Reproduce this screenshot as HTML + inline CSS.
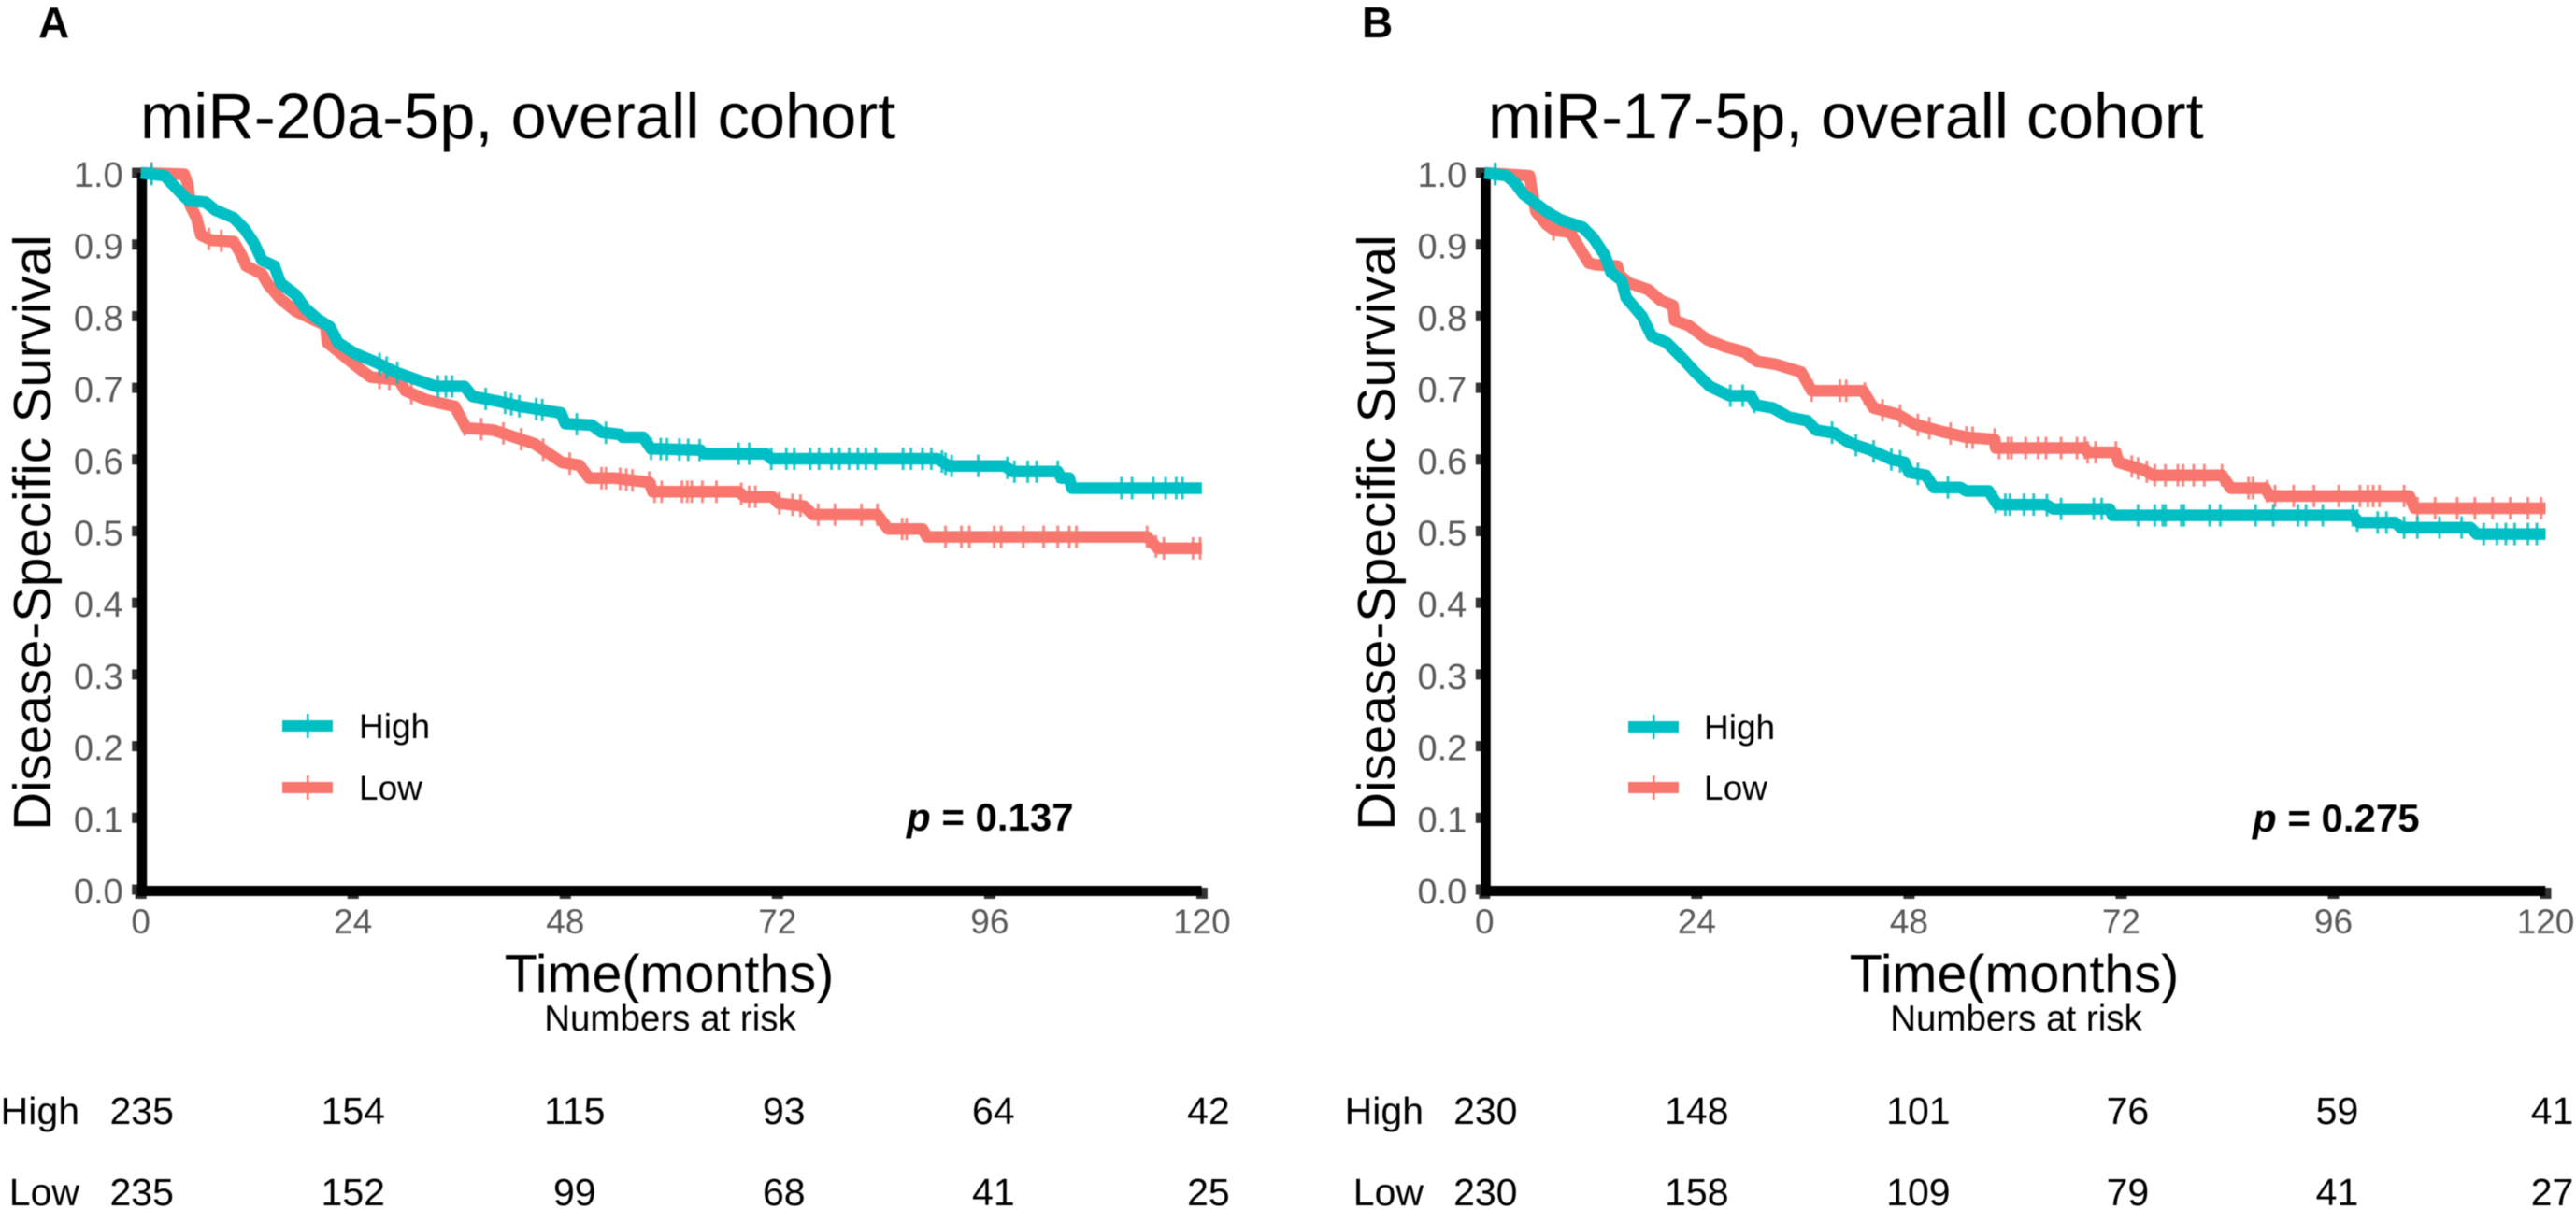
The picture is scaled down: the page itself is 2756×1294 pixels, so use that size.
<!DOCTYPE html>
<html lang="en">
<head>
<meta charset="utf-8">
<title>Disease-specific survival by miRNA expression</title>
<style>
html,body{margin:0;padding:0;background:#fff;width:2756px;height:1294px;overflow:hidden}
svg{display:block;font-family:"Liberation Sans",sans-serif;filter:blur(0.6px)}
</style>
</head>
<body>
<svg id="figure" xmlns="http://www.w3.org/2000/svg" width="2756" height="1294" viewBox="0 0 2756 1294">
  <rect width="2756" height="1294" fill="#fff"/>

  <g id="panel-a">
    <text x="41" y="40" font-size="46" font-weight="bold">A</text>
    <text x="150" y="148" font-size="68.6">miR-20a-5p, overall cohort</text>
    <text transform="translate(54,570) rotate(-90)" text-anchor="middle" font-size="56.5">Disease-Specific Survival</text>
    <text x="716" y="1062" text-anchor="middle" font-size="57.5">Time(months)</text>
    <text x="717" y="1103" text-anchor="middle" font-size="38.5">Numbers at risk</text>
    <text x="85" y="1203" text-anchor="end" font-size="41">High</text>
    <text x="85" y="1290" text-anchor="end" font-size="41">Low</text>
    <g>
      <rect x="302" y="771" width="54" height="12" fill="#00BFC4"/>
      <rect x="328" y="764" width="2.5" height="26" fill="#00BFC4"/>
      <text x="384" y="790" font-size="37">High</text>
    </g>
    <g>
      <rect x="302" y="837" width="54" height="12" fill="#F8766D"/>
      <rect x="328" y="830" width="2.5" height="26" fill="#F8766D"/>
      <text x="384" y="856" font-size="37">Low</text>
    </g>
    <text x="970" y="889" font-size="42" font-weight="bold"><tspan font-style="italic">p</tspan> = 0.137</text>
  </g>

  <g id="panel-b">
    <text x="1457" y="40" font-size="46" font-weight="bold">B</text>
    <text x="1592" y="148" font-size="68.2">miR-17-5p, overall cohort</text>
    <text transform="translate(1492,570) rotate(-90)" text-anchor="middle" font-size="56.5">Disease-Specific Survival</text>
    <text x="2155" y="1062" text-anchor="middle" font-size="57.5">Time(months)</text>
    <text x="2157" y="1103" text-anchor="middle" font-size="38.5">Numbers at risk</text>
    <text x="1523" y="1203" text-anchor="end" font-size="41">High</text>
    <text x="1523" y="1290" text-anchor="end" font-size="41">Low</text>
    <g>
      <rect x="1742" y="772" width="54" height="12" fill="#00BFC4"/>
      <rect x="1768" y="765" width="2.5" height="26" fill="#00BFC4"/>
      <text x="1823" y="791" font-size="37">High</text>
    </g>
    <g>
      <rect x="1742" y="837" width="54" height="12" fill="#F8766D"/>
      <rect x="1768" y="830" width="2.5" height="26" fill="#F8766D"/>
      <text x="1823" y="856" font-size="37">Low</text>
    </g>
    <text x="2410" y="890" font-size="42" font-weight="bold"><tspan font-style="italic">p</tspan> = 0.275</text>
  </g>
</svg>
<script>
// Shared tick labels
const timeTicks = [0, 24, 48, 72, 96, 120];
const survivalTicks = [0.0, 0.1, 0.2, 0.3, 0.4, 0.5, 0.6, 0.7, 0.8, 0.9, 1.0];

// Panel A: miR-20a-5p
const panelAHighTimes = [0,2.7,3.5,4.5,5.4,7.3,8.4,10.5,11.7,12.8,13.7,15.1,15.8,17.5,18.6,20,21.4,22.3,24.2,26.7,28.8,31.3,33.4,36.6,37.5,40.5,42.9,47.5,48,49.6,51,52.1,54.2,54.5,56.8,57.7,63.3,63.7,70.7,71.3,90.1,91.4,97.7,98.6,103.7,104.1,105,105.3,120];
const panelAHighSurvival = [1,.996,.985,.972,.961,.959,.948,.937,.922,.902,.878,.870,.846,.830,.811,.796,.785,.763,.748,.735,.722,.711,.702,.702,.688,.681,.674,.665,.650,.649,.648,.638,.635,.631,.631,.615,.613,.608,.608,.601,.601,.591,.591,.583,.583,.574,.574,.560,.560];
const panelAHighCensored = [1.2,27,27.8,29,33.6,34.5,35.2,39,41.2,41.9,42.8,44.7,45.4,49.3,52.6,57.7,58.8,59.5,60.9,61.9,63.2,67.6,68.8,71.3,73,73.9,75.7,76.7,78.1,79,80.1,81.1,82,83.1,86.2,87.1,88.4,89.4,90.6,91,91.7,94.7,98,98.8,100.3,101.3,103.7,110.9,112.1,114.5,115.9,117.1,117.8];
const panelALowTimes = [0,4.9,5.3,5.6,6.3,6.8,8,10.5,11.4,11.9,13.7,14.4,15.8,17.5,19,20.9,21.1,22.8,24.6,26,29.2,29.9,32.3,35.5,36.8,39.9,44.5,47.6,49.6,50.7,53.5,57.5,57.9,67.6,68.3,71.4,72.1,75,76,83.3,84.5,88.4,88.9,113.8,115,120];
const panelALowSurvival = [1,.998,.985,.954,.937,.913,.906,.904,.885,.870,.859,.844,.824,.807,.798,.787,.763,.746,.728,.715,.711,.696,.683,.674,.644,.641,.622,.596,.592,.574,.574,.568,.555,.555,.548,.548,.539,.535,.523,.523,.503,.503,.492,.492,.476,.476];
const panelALowCensored = [1.2,7.7,9.1,27,28.1,30.6,36.6,38.5,41,43,45.5,48.5,52.1,52.6,54.2,54.9,55.6,57.5,58.1,58.9,61.2,61.8,62.3,63.5,65.1,67.9,68.8,69.5,72.2,73.7,74.6,76.6,78.5,81.5,83.3,86.1,86.6,91,92.8,93.7,96.5,97.3,99.8,102.1,103.7,105,105.8,113.8,114.8,115.7,119,119.8];
const panelARiskHigh = [235, 154, 115, 93, 64, 42];
const panelARiskLow = [235, 152, 99, 68, 41, 25];

// Panel B: miR-17-5p
const panelBHighTimes = [0,2.5,3.5,4.4,5.6,7,8.5,11.1,12.3,13.6,14.3,15.5,16,17.8,18.9,20.6,22.4,23.8,25.5,27.7,30.1,30.7,32.6,34.4,36.5,37.5,39.6,40.9,42,43.5,45,46,47.5,48,49.9,50.8,53.8,54.5,57,58,63.5,64.3,70.7,71,98.2,98.9,103,103.6,111.5,112.2,120];
const panelBHighSurvival = [1,.996,.985,.970,.959,.946,.935,.924,.909,.885,.861,.850,.826,.800,.772,.763,.741,.722,.702,.689,.689,.676,.672,.659,.654,.641,.637,.626,.620,.614,.606,.600,.596,.582,.578,.561,.561,.556,.556,.537,.537,.531,.531,.522,.522,.512,.512,.505,.505,.496,.496];
const panelBHighCensored = [1.2,27.8,29.2,30.5,39.3,42,44,46,47,49,52.4,57.8,58.9,59.4,61,62.1,63.6,65.2,68.9,69.8,73.9,75.8,76.7,77,78.8,79.1,82,83.2,87.2,89.2,92,92.9,94.8,98.2,98.7,101,102,104,105.5,108,110.5,113,114.5,115.5,116.5,118,119];
const panelBLowTimes = [0,5.1,5.3,5.8,7,7.9,9.7,10.7,11.8,12.5,15,15.3,16.4,18.5,19.9,21.3,21.5,23.1,25.2,27.3,29.4,30.8,32.9,35.8,37,42.8,44,46.7,48.5,49.9,51.7,54.5,57.7,57.8,67.9,68.2,71.4,71.7,74.6,75.6,83.4,84.4,88.3,88.8,104.6,105.2,120];
const panelBLowSurvival = [1,.996,.980,.946,.928,.920,.917,.896,.874,.872,.870,.857,.846,.837,.822,.815,.794,.787,.767,.757,.750,.737,.733,.722,.696,.696,.672,.663,.650,.645,.639,.631,.628,.616,.616,.610,.610,.596,.585,.578,.578,.560,.560,.549,.549,.532,.532];
const panelBLowCensored = [1.2,7.8,37,40.2,40.9,43,45,47,49,50.3,52.7,54.5,55.2,57.7,58.2,59.2,59.6,61.2,62.6,63.5,65.2,67,67.9,68.2,69.1,71.4,73.2,73.9,74.9,75.8,77,78.4,79,80.2,81.4,83.4,86.4,86.9,88.5,89.4,91.5,93.8,96.6,99,99.9,100.5,101.2,104,105.5,107.5,110,112,114,116,118,119.5];
const panelBRiskHigh = [230, 148, 101, 76, 59, 41];
const panelBRiskLow = [230, 158, 109, 79, 41, 27];

const SVG_NS = 'http://www.w3.org/2000/svg';
const HIGH_COLOR = '#00BFC4';
const LOW_COLOR = '#F8766D';

function make(tag, parent, attrs) {
  const el = document.createElementNS(SVG_NS, tag);
  for (const key in attrs) el.setAttribute(key, attrs[key]);
  parent.appendChild(el);
  return el;
}

function survivalAt(times, survival, t) {
  for (let i = 1; i < times.length; i++) {
    if (t <= times[i]) {
      const f = (t - times[i - 1]) / (times[i] - times[i - 1]);
      return survival[i - 1] + f * (survival[i] - survival[i - 1]);
    }
  }
  return survival[survival.length - 1];
}

function drawCurve(group, xScale, yScale, times, survival, censored, color) {
  const d = times.map((t, i) => (i ? 'L' : 'M') + xScale(t).toFixed(1) + ' ' + yScale(survival[i]).toFixed(1)).join('');
  const line = make('path', group, {d: d, fill: 'none', stroke: color, 'stroke-width': 12.5, 'stroke-linejoin': 'round', 'stroke-linecap': 'butt'});
  
  
  censored.forEach(function (t) {
    const y = yScale(survivalAt(times, survival, t));
    const mark = make('line', group, {x1: xScale(t), x2: xScale(t), y1: y - 12, y2: y + 12, stroke: color, 'stroke-width': 3, opacity: 0.85});
    
    
  });
}

function drawPanel(panelId, originX, series) {
  const root = document.getElementById(panelId);
  const pxPerMonth = 9.46;
  const y0 = 952, yTop = 185;
  const xScale = function (t) { return originX + t * pxPerMonth; };
  const yScale = function (s) { return y0 - s * (y0 - yTop); };
  const riskNudge = [1, 0, 10, 7, 4, 7];

  survivalTicks.forEach(function (s) {
    const tick = make('rect', root, {x: originX - 9.5, y: yScale(s) - 5.5, width: 11, height: 11, fill: '#333'});
    
    
    const label = make('text', root, {x: originX - 19, y: yScale(s) + 15, 'text-anchor': 'end', 'font-size': 38, fill: '#5a5a5a'});
    
    
    label.textContent = s.toFixed(1);
  });

  timeTicks.forEach(function (t) {
    const tick = make('rect', root, {x: xScale(t) - 6, y: 950, width: 12, height: 12, fill: '#333'});
    
    
    const label = make('text', root, {x: xScale(t), y: 999, 'text-anchor': 'middle', 'font-size': 37, fill: '#5a5a5a'});
    
    
    label.textContent = t;
  });

  const yAxis = make('rect', root, {x: originX - 4, y: yTop, width: 10.5, height: 774, fill: '#000'});
  
  
  const xAxis = make('rect', root, {x: originX - 4, y: 948, width: 1139, height: 11, fill: '#000'});
  
  

  const lowGroup = make('g', root, {});
  
  
  drawCurve(lowGroup, xScale, yScale, series.lowTimes, series.lowSurvival, series.lowCensored, LOW_COLOR);
  const highGroup = make('g', root, {});
  
  
  drawCurve(highGroup, xScale, yScale, series.highTimes, series.highSurvival, series.highCensored, HIGH_COLOR);

  timeTicks.forEach(function (t, i) {
    const high = make('text', root, {x: xScale(t) + riskNudge[i], y: 1203, 'text-anchor': 'middle', 'font-size': 41});
    
    
    high.textContent = series.riskHigh[i];
    const low = make('text', root, {x: xScale(t) + riskNudge[i], y: 1290, 'text-anchor': 'middle', 'font-size': 41});
    
    
    low.textContent = series.riskLow[i];
  });
}

drawPanel('panel-a', 150.7, {
  highTimes: panelAHighTimes, highSurvival: panelAHighSurvival, highCensored: panelAHighCensored,
  lowTimes: panelALowTimes, lowSurvival: panelALowSurvival, lowCensored: panelALowCensored,
  riskHigh: panelARiskHigh, riskLow: panelARiskLow
});
drawPanel('panel-b', 1588.3, {
  highTimes: panelBHighTimes, highSurvival: panelBHighSurvival, highCensored: panelBHighCensored,
  lowTimes: panelBLowTimes, lowSurvival: panelBLowSurvival, lowCensored: panelBLowCensored,
  riskHigh: panelBRiskHigh, riskLow: panelBRiskLow
});
</script>
</body>
</html>
